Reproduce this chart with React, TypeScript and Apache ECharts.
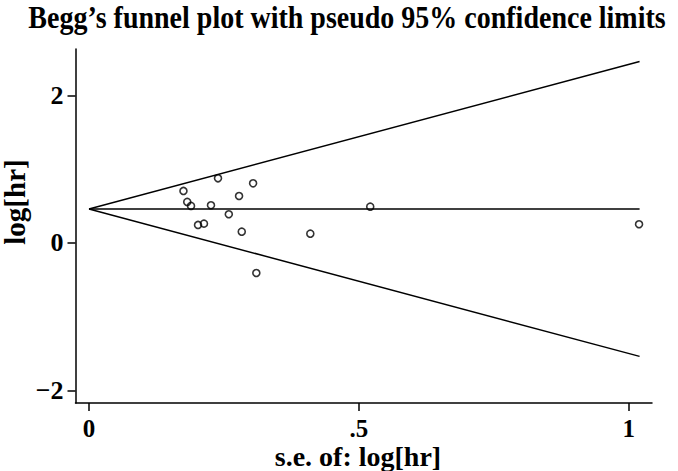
import React, { useEffect, useRef } from "react";
import * as echarts from "echarts";

const titleText = "Begg\u2019s funnel plot with pseudo 95% confidence limits";
const xAxisTitle = "s.e. of: log[hr]";
const yAxisTitle = "log[hr]";

// study standard errors and log hazard ratios
const seValues = [0.175, 0.182, 0.189, 0.202, 0.213, 0.226, 0.239, 0.259, 0.278, 0.283, 0.304, 0.310, 0.410, 0.521, 1.019];
const logHrValues = [0.705, 0.556, 0.502, 0.244, 0.262, 0.511, 0.877, 0.389, 0.637, 0.153, 0.809, -0.407, 0.126, 0.492, 0.254];

// funnel (pooled estimate and pseudo 95% limits) endpoints
const funnelSe = [0, 1.02];
const pooledLine = [0.461, 0.461];
const upperLimit = [0.461, 2.46];
const lowerLimit = [0.461, -1.538];

const xTicks = [0, 0.5, 1];
const xTickLabels = ["0", ".5", "1"];
const yTicks = [-2, 0, 2];
const yTickLabels = ["\u22122", "0", "2"];

const FONT = "'Liberation Serif', 'Times New Roman', serif";

export default function App() {
  const ref = useRef<HTMLDivElement>(null);
  useEffect(() => {
    if (!ref.current) return;
    const chart = echarts.init(ref.current, null, { renderer: "svg" });
    const line = (ys: number[]) => ({
      type: "line",
      data: funnelSe.map((x, i) => [x, ys[i]]),
      symbol: "none",
      lineStyle: { color: "#000", width: 1.5 },
      silent: true,
      z: 2,
    });
    chart.setOption({
      animation: false,
      backgroundColor: "#fff",
      grid: { left: 75.5, right: 26, top: 49, bottom: 68, containLabel: false },
      xAxis: {
        type: "value",
        min: -0.025,
        max: 1.043,
        splitLine: { show: false },
        axisLine: { show: true, onZero: false, lineStyle: { color: "#000", width: 1.5 } },
        axisTick: { show: true, length: 8, customValues: xTicks, lineStyle: { color: "#000", width: 1.5 } },
        axisLabel: {
          customValues: xTicks,
          margin: 13,
          color: "#000",
          fontFamily: FONT,
          fontWeight: "bold",
          fontSize: 25,
          lineHeight: 24,
          formatter: (v: number) => {
            const i = xTicks.findIndex((t) => Math.abs(t - v) < 1e-9);
            return i >= 0 ? xTickLabels[i] : "";
          },
        },
      },
      yAxis: {
        type: "value",
        min: -2.17,
        max: 2.63,
        splitLine: { show: false },
        axisLine: { show: true, onZero: false, lineStyle: { color: "#000", width: 1.5 } },
        axisTick: { show: true, length: 8, customValues: yTicks, lineStyle: { color: "#000", width: 1.5 } },
        axisLabel: {
          customValues: yTicks,
          margin: 12,
          color: "#000",
          fontFamily: FONT,
          fontWeight: "bold",
          fontSize: 26,
          formatter: (v: number) => {
            const i = yTicks.findIndex((t) => Math.abs(t - v) < 1e-9);
            return i >= 0 ? yTickLabels[i] : "";
          },
        },
      },
      series: [
        line(pooledLine),
        line(upperLimit),
        line(lowerLimit),
        {
          type: "scatter",
          data: seValues.map((s, i) => [s, logHrValues[i]]),
          symbol: "circle",
          symbolSize: 7,
          itemStyle: { color: "rgba(0,0,0,0)", borderColor: "#000", borderWidth: 1.6 },
          z: 3,
        },
      ],
      graphic: [
        {
          type: "text",
          x: 347,
          y: 18,
          scaleY: 1.1,
          style: {
            text: titleText,
            align: "center",
            verticalAlign: "middle",
            fontFamily: FONT,
            fontWeight: "bold",
            fontSize: 28,
            fill: "#000",
          },
        },
        {
          type: "text",
          x: 358,
          y: 456,
          style: {
            text: xAxisTitle,
            align: "center",
            verticalAlign: "middle",
            fontFamily: FONT,
            fontWeight: "bold",
            fontSize: 28,
            lineHeight: 26,
            fill: "#000",
          },
        },
        {
          type: "text",
          x: 15,
          y: 202,
          rotation: Math.PI / 2,
          style: {
            text: yAxisTitle,
            align: "center",
            verticalAlign: "middle",
            fontFamily: FONT,
            fontWeight: "bold",
            fontSize: 29,
            fill: "#000",
          },
        },
      ],
    });
    return () => chart.dispose();
  }, []);
  return (
    <div
      ref={ref}
      style={{ position: "fixed", left: 0, top: 0, width: 678, height: 471, background: "#fff" }}
    />
  );
}
